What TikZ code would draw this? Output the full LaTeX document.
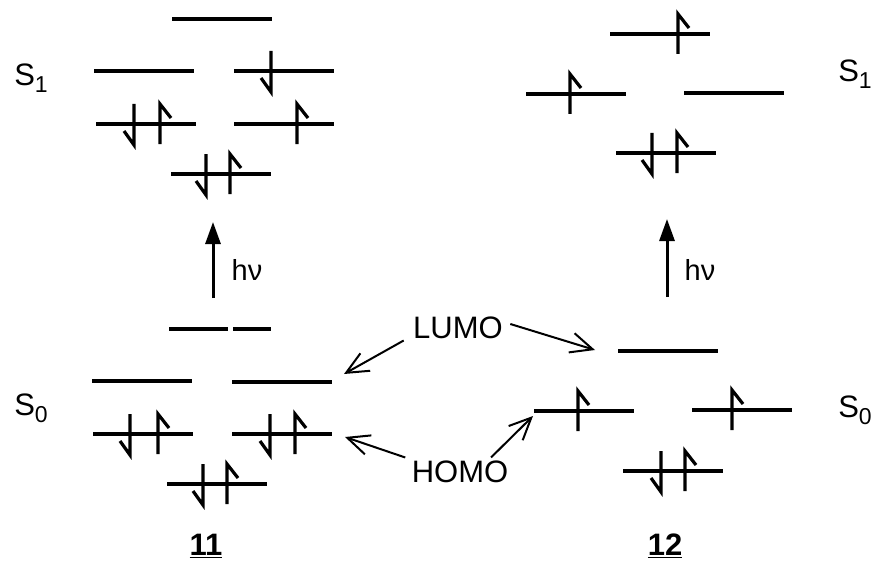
\documentclass[tikz,border=0pt]{standalone}
\usepackage{fontspec}
\setmainfont{Liberation Sans}
\usetikzlibrary{arrows.meta}

\tikzset{
  orbital/.style={line width=3.2pt},
  elec/.style={line width=3.2pt},
  pointer/.style={line width=2pt,-{Straight Barb[length=22pt,width=20pt]}},
  light/.style={line width=3pt,-{Triangle[length=22pt,width=15pt]}},
  lbl/.style={font=\fontsize{31}{36}\selectfont},
  slbl/.style={font=\fontsize{31}{36}\selectfont},
  hvlbl/.style={font=\fontsize{29}{34}\selectfont},
  numlbl/.style={font=\fontsize{31}{36}\selectfont\bfseries},
}
% one level, 100 units long, from its left end
\newcommand{\lvl}[2]{\draw[orbital] (#1,#2) -- ++(100,0);}
% spin up / spin down electrons
\newcommand{\eup}[2]{\draw[elec] (#1,#2+20) -- (#1,#2-20) -- ++(11,14);}
\newcommand{\edown}[2]{\draw[elec] (#1,#2-20) -- (#1,#2+21) -- ++(-10,-14);}
\newcommand{\Sstate}[1]{S\raisebox{-7pt}{\fontsize{23}{25}\selectfont #1}}

\begin{document}
\begin{tikzpicture}[x=1pt,y=-1pt]
\useasboundingbox (0,0) rectangle (883,575);

% 11, excited state
\lvl{172}{19}
\lvl{94}{71}
\lvl{234}{71} \edown{271}{71}
\lvl{96}{124} \edown{134}{124} \eup{160}{124}
\lvl{234}{124} \eup{297}{124}
\lvl{171}{174} \edown{206}{174} \eup{230}{174}

% 11, ground state
\draw[orbital] (169,329) -- (228,329);
\draw[orbital] (233,329) -- (271,329);
\lvl{92}{381}
\lvl{232}{382}
\lvl{93}{434} \edown{130}{434} \eup{158}{434}
\lvl{232}{434} \edown{270}{434} \eup{295}{434}
\lvl{167}{484} \edown{203}{484} \eup{227}{484}

% 12, excited state
\lvl{610}{34} \eup{678}{34}
\lvl{526}{94} \eup{570}{94}
\lvl{684}{93}
\lvl{616}{153} \edown{652}{153} \eup{677}{153}

% 12, ground state
\lvl{618}{351}
\lvl{534}{411} \eup{578}{411}
\lvl{692}{410} \eup{732}{410}
\lvl{623}{471} \edown{661}{471} \eup{685}{471}

% excitation
\coordinate (hvA0) at (213,298);
\coordinate (hvA1) at (213,222);
\draw[light] (hvA0) -- (hvA1);
\node[hvlbl] (hvA) at (247,270) {hν};
\coordinate (hvB0) at (667,297);
\coordinate (hvB1) at (667,219);
\draw[light] (hvB0) -- (hvB1);
\node[hvlbl] (hvB) at (700,270) {hν};

% states
\node[slbl] (s1a) at (31,78) {\Sstate{1}};
\node[slbl] (s0a) at (31,408) {\Sstate{0}};
\node[slbl] (s1b) at (855,74) {\Sstate{1}};
\node[slbl] (s0b) at (855,410) {\Sstate{0}};

% frontier orbitals
\node[lbl] (lumo) at (458,328) {LUMO};
\node[lbl] (homo) at (460,472) {HOMO};
\coordinate (lumoL) at (344,374);
\coordinate (lumoR) at (595,350);
\coordinate (homoL) at (345,437);
\coordinate (homoR) at (533,416);
\draw[pointer] ([xshift=-6pt,yshift=2pt]lumo.south west) -- (lumoL);
\draw[pointer] ([xshift=4pt,yshift=4pt]lumo.east) -- (lumoR);
\draw[pointer] ([xshift=-3pt]homo.north west) -- (homoL);
\draw[pointer] ([xshift=31pt]homo.north) -- (homoR);

% compounds
\node[numlbl] (c11) at (206,546) {\underline{11}};
\node[numlbl] (c12) at (665,546) {\underline{12}};
\end{tikzpicture}
\end{document}
